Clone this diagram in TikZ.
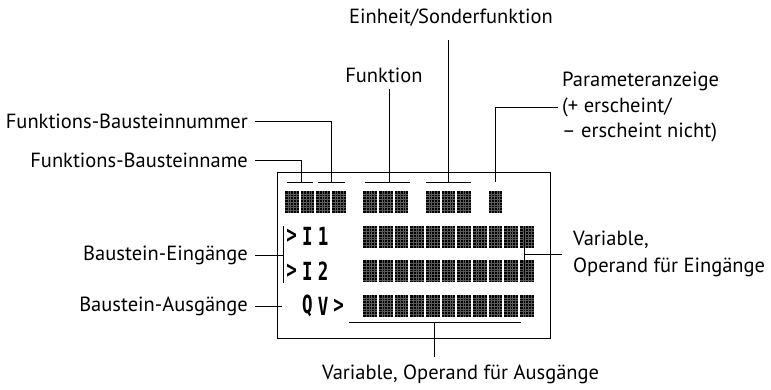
\documentclass[tikz,border=0pt]{standalone}
\usepackage{fontspec}
\setmainfont{PT Sans}
\setmonofont{DejaVu Sans Mono}
\usetikzlibrary{positioning}

\tikzset{
  lbl/.style={font=\fontsize{20.5}{27}\selectfont, inner sep=0pt},
  lead/.style={line width=1pt},
  lcdchar/.style={font=\ttfamily\bfseries\fontsize{25}{25}\selectfont, inner sep=0pt, xscale=0.7},
  lcdcell/.pic={
    \fill[black] (0,0) rectangle (13.5,22);
    \foreach \i in {1,...,4}
      \draw[black!65, line width=0.3pt] ({2.7*\i},0) -- ({2.7*\i},22);
    \foreach \j in {1,...,7}
      \draw[black!65, line width=0.3pt] (0,{2.75*\j}) -- (13.5,{2.75*\j});
  },
}
% LCD grid position of character cell: column, row
\newcommand{\cellpos}[2]{({285+15.67*#1},{191+34.7*#2})}

\begin{document}
\begin{tikzpicture}[x=1pt, y=-1pt]
\useasboundingbox (0,0) rectangle (771,389);

% display frame
\draw[lead] (277,172) rectangle (550,338);

% character cells
\foreach \c in {0,1,2,3,5,6,7,9,10,11,13}
  \pic at \cellpos{\c}{0} {lcdcell};
\foreach \r in {1,2,3}
  \foreach \c in {5,...,15}
    \pic at \cellpos{\c}{\r} {lcdcell};

% LCD characters
\foreach \c/\r/\t in {0/1/>, 1/1/I, 2/1/1, 0/2/>, 1/2/I, 2/2/2, 1/3/Q, 2/3/V, 3/3/>}
  \node[lcdchar] at ({285+15.67*\c+6.75},{191+34.7*\r+11}) {\t};

% labels
\node[lbl, anchor=east] (nummer) at (248,121) {Funktions-Bausteinnummer};
\node[lbl, anchor=east] (name) at (248,160) {Funktions-Bausteinname};
\node[lbl] (funktion) at (384,75) {Funktion};
\node[lbl] (einheit) at (451,18) {Einheit/Sonderfunktion};
\node[lbl, anchor=west, align=left, font=\fontsize{20.5}{25.5}\selectfont] (param) at (562,107) {Parameteranzeige\\(+ erscheint/\\– erscheint nicht)};
\node[lbl, anchor=east] (eing) at (248,255) {Baustein-Eingänge};
\node[lbl, anchor=east] (ausg) at (248,306) {Baustein-Ausgänge};
\node[lbl, anchor=west, align=left] (vareing) at (573,254) {Variable,\\Operand für Eingänge};
\node[lbl, anchor=west] (varausg) at (322,374) {Variable, Operand für Ausgänge};

% leader end points
\coordinate (nameU) at (301,182);
\coordinate (nummerU) at (331,182);
\coordinate (funktionU) at (389,182);
\coordinate (einheitU) at (448,182);
\coordinate (paramU) at (495,182);
\coordinate (eingU) at (283,255);
\coordinate (ausgU) at (282,306);
\coordinate (vareingU) at (524,254);
\coordinate (varausgU) at (434,322);

% underlines and brackets
\draw[lead] (287,182) -- (313,182);
\draw[lead] (318,182) -- (345,182);
\draw[lead] (365,182) -- (410,182);
\draw[lead] (426,182) -- (471,182);
\draw[lead] (283,226) -- (283,283);
\draw[lead] (524,226) -- (524,277);
\draw[lead] (349,322) -- (521,322);

% leaders
\draw[lead] ([xshift=7pt]name.east) -| (nameU);
\draw[lead] ([xshift=7pt]nummer.east) -| (nummerU);
\draw[lead] (funktionU |- 0,89) -- (funktionU);
\draw[lead] (einheitU |- 0,40) -- (einheitU);
\draw[lead] ([xshift=-4pt]param.west) -| (paramU);
\draw[lead] ([xshift=7pt]eing.east) -- (eingU);
\draw[lead] ([xshift=7pt]ausg.east) -- (ausgU);
\draw[lead] ([xshift=-11pt]vareing.west) -- (vareingU);
\draw[lead] (varausgU |- 0,357) -- (varausgU);
\end{tikzpicture}
\end{document}
